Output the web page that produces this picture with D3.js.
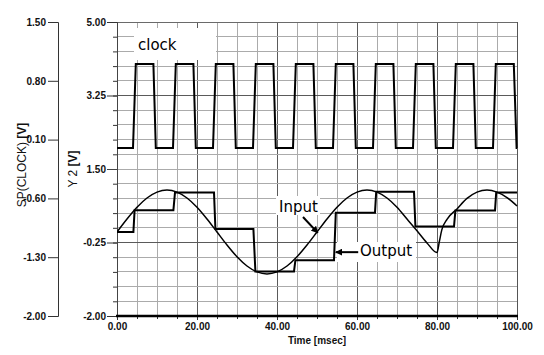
<!DOCTYPE html>
<html><head><meta charset="utf-8">
<script src="https://cdn.jsdelivr.net/npm/d3@7"></script>
<style>body{margin:0;background:#fff;} svg{display:block;}</style>
</head><body><svg id="c" width="544" height="355"></svg>
<script>
// ---- data ----
const timeTicks = [0, 20, 40, 60, 80, 100];
const timeTickLabels = ["0.00", "20.00", "40.00", "60.00", "80.00", "100.00"];
const leftTicks = [1.5, 0.8, 0.1, -0.6, -1.3, -2.0];
const leftTickLabels = ["1.50", "0.80", "0.10", "-0.60", "-1.30", "-2.00"];
const y2TopTicks = [5.0, 3.25, 1.5];
const y2TopTickLabels = ["5.00", "3.25", "1.50"];
const y2BotTicks = [-0.25, -2.0];
const y2BotTickLabels = ["-0.25", "-2.00"];

// clock (SP(CLOCK), left axis)
const clockT = [0, 4.0, 4.7, 9.1, 9.7, 14.0, 14.7, 19.1, 19.7, 24.0, 24.7, 29.1, 29.7,
  34.0, 34.7, 39.1, 39.7, 44.0, 44.7, 49.1, 49.7, 54.0, 54.7, 59.1, 59.7, 64.0, 64.7, 69.1, 69.7,
  74.0, 74.7, 79.1, 79.7, 84.0, 84.7, 89.1, 89.7, 94.0, 94.7, 99.2, 99.9, 100];
const clockV = [0, 0, 1, 1, 0, 0, 1, 1, 0, 0, 1, 1, 0,
  0, 1, 1, 0, 0, 1, 1, 0, 0, 1, 1, 0, 0, 1, 1, 0,
  0, 1, 1, 0, 0, 1, 1, 0, 0, 1, 1, 0, 0];

// Input (Y2, bottom)
const inputT = [0, 2.5, 5, 7.5, 10, 12.5, 15, 17.5, 20, 22.5, 25, 27.5, 30, 32.5, 35, 37.5, 40, 42.5, 45, 47.5,
  50, 52.5, 55, 57.5, 60, 62.5, 65, 67.5, 70, 72.5, 75, 77.5, 80, 80.6, 81.2, 82.5, 85, 87.5, 90, 92.5, 95, 97.5, 100];
const inputV = [0.00, 0.31, 0.59, 0.81, 0.95, 1.00, 0.95, 0.81, 0.59, 0.31, 0.00, -0.31, -0.59, -0.81, -0.95, -1.00, -0.95, -0.81, -0.59, -0.31,
  0.00, 0.31, 0.59, 0.81, 0.95, 1.00, 0.95, 0.81, 0.59, 0.31, 0.03, -0.26, -0.49, -0.22, 0.05, 0.30, 0.55, 0.80, 0.95, 1.00, 0.95, 0.82, 0.62];

// Output (Y2, bottom) sample & hold
const outputT = [0, 4.1, 4.4, 14.1, 14.5, 24.25, 24.6, 34.1, 34.6, 44.25, 44.6, 54.25, 54.7, 64.5, 64.8, 74.25, 74.6, 84.25, 84.6, 94.5, 94.8, 100];
const outputV = [0, 0, 0.52, 0.52, 0.94, 0.94, 0.07, 0.07, -0.94, -0.94, -0.67, -0.67, 0.46, 0.46, 0.96, 0.96, 0.13, 0.13, 0.51, 0.51, 0.94, 0.94];

// ---- layout ----
const W = 544, H = 355;
const L = 117, R = 517, T = 22, B = 316, MID = 169;
const svg = d3.select("#c");
const x = d3.scaleLinear().domain([0, 100]).range([L, R]);
const yL = d3.scaleLinear().domain([-2, 1.5]).range([B, T]);
const y2Top = d3.scaleLinear().domain([1.5, 5]).range([MID, T]);
const y2Bot = d3.scaleLinear().domain([-2, 1.5]).range([B, MID]);
const font = "'Liberation Sans', Arial, sans-serif";

// grid
const g = svg.append("g");
d3.range(0, 100.01, 5).forEach(t => {
  const major = t % 20 === 0;
  g.append("line").attr("x1", x(t)).attr("x2", x(t)).attr("y1", T).attr("y2", B)
    .attr("stroke", major ? "#5a5a5a" : "#ababab").attr("stroke-width", 1).attr("shape-rendering", "crispEdges");
});
d3.range(0, 21).forEach(i => {
  const v = -2 + i * 0.175;
  const yy = yL(v);
  const major = (i === 10 + 5 || i === 5);
  g.append("line").attr("x1", L).attr("x2", R).attr("y1", yy).attr("y2", yy)
    .attr("stroke", major ? "#5a5a5a" : "#ababab").attr("stroke-width", 1).attr("shape-rendering", "crispEdges");
});
// borders
g.append("line").attr("x1", L).attr("x2", R).attr("y1", T).attr("y2", T).attr("stroke", "#6a6a6a").attr("shape-rendering", "crispEdges");
g.append("line").attr("x1", R).attr("x2", R).attr("y1", T).attr("y2", B).attr("stroke", "#555").attr("shape-rendering", "crispEdges");
g.append("line").attr("x1", L).attr("x2", L).attr("y1", T).attr("y2", B).attr("stroke", "#444").attr("shape-rendering", "crispEdges");

// left axis (SP(CLOCK))
const axL = svg.append("g").attr("transform", "translate(58,0)");
axL.call(d3.axisLeft(yL).tickValues(d3.range(0, 21).map(i => -2 + i * 0.175)).tickSize(5).tickFormat(""));
axL.call(d3.axisLeft(yL).tickValues(leftTicks).tickSize(10).tickFormat((d, i) => leftTickLabels[i]).tickPadding(2));
axL.selectAll("path.domain").attr("stroke", "#333");
axL.selectAll(".tick line").attr("stroke", "#333");
axL.selectAll("text").attr("font-family", font).attr("font-weight", "bold").attr("font-size", 10).attr("fill", "#111");

// Y2 axis
const ax2 = svg.append("g").attr("transform", `translate(${L},0)`);
ax2.append("g").call(d3.axisLeft(yL).tickValues(d3.range(0, 21).map(i => -2 + i * 0.175)).tickSize(4).tickFormat(""));
ax2.append("g").call(d3.axisLeft(y2Top).tickValues(y2TopTicks).tickSize(10).tickFormat((d, i) => y2TopTickLabels[i]).tickPadding(1));
ax2.append("g").call(d3.axisLeft(y2Bot).tickValues(y2BotTicks).tickSize(10).tickFormat((d, i) => y2BotTickLabels[i]).tickPadding(1));
ax2.selectAll("path.domain").attr("stroke", "#444");
ax2.selectAll(".tick line").attr("stroke", "#333");
ax2.selectAll("text").attr("font-family", font).attr("font-weight", "bold").attr("font-size", 10).attr("fill", "#111");

// x axis
const axX = svg.append("g").attr("transform", `translate(0,${B})`);
axX.append("g").call(d3.axisBottom(x).tickValues(d3.range(0, 100.01, 5)).tickSize(3).tickFormat(""));
axX.append("g").call(d3.axisBottom(x).tickValues(timeTicks).tickSize(4).tickPadding(3).tickFormat((d, i) => timeTickLabels[i]));
axX.selectAll("path.domain").attr("stroke", "none");
axX.selectAll(".tick line").attr("stroke", "#333");
axX.selectAll("text").attr("font-family", font).attr("font-weight", "bold").attr("font-size", 10).attr("fill", "#111");
svg.append("line").attr("x1", L - 1).attr("x2", R + 1).attr("y1", B).attr("y2", B).attr("stroke", "#000").attr("stroke-width", 2.5);

// axis titles
svg.append("text").attr("x", (L + R) / 2).attr("y", 344).attr("text-anchor", "middle")
  .attr("font-family", font).attr("font-weight", "bold").attr("font-size", 10).attr("fill", "#111").text("Time [msec]");
const t1 = svg.append("text").attr("transform", "translate(26,165) rotate(-90)").attr("text-anchor", "middle")
  .attr("font-family", font).attr("font-size", 12).attr("fill", "#111");
t1.append("tspan").text("SP(CLOCK) ");
t1.append("tspan").attr("font-weight", "bold").text("[V]");
const t2 = svg.append("text").attr("transform", "translate(77,169) rotate(-90)").attr("text-anchor", "middle")
  .attr("font-family", font).attr("font-size", 12).attr("fill", "#111");
t2.append("tspan").text("Y 2 ");
t2.append("tspan").attr("font-weight", "bold").text("[V]");

// series
const clip = svg.append("clipPath").attr("id", "cp").append("rect").attr("x", L).attr("y", T - 2).attr("width", R - L + 1).attr("height", B - T + 2);
const plot = svg.append("g").attr("clip-path", "url(#cp)");

// annotation backgrounds
plot.append("rect").attr("x", 134).attr("y", 28).attr("width", 82).attr("height", 32).attr("fill", "#fff");
plot.append("rect").attr("x", 276).attr("y", 196).attr("width", 44).attr("height", 19).attr("fill", "#fff");
plot.append("rect").attr("x", 337).attr("y", 242).attr("width", 79).attr("height", 20).attr("fill", "#fff");

const clockLine = d3.line().x(d => x(d[0])).y(d => yL(d[1]));
plot.append("path").attr("d", clockLine(clockT.map((t, i) => [t, clockV[i]])))
  .attr("fill", "none").attr("stroke", "#000").attr("stroke-width", 2);

const inLine = d3.line().x(d => x(d[0])).y(d => y2Bot(d[1])).curve(d3.curveMonotoneX);
plot.append("path").attr("d", inLine(inputT.map((t, i) => [t, inputV[i]])))
  .attr("fill", "none").attr("stroke", "#000").attr("stroke-width", 1.5);

const outLine = d3.line().x(d => x(d[0])).y(d => y2Bot(d[1]));
plot.append("path").attr("d", outLine(outputT.map((t, i) => [t, outputV[i]])))
  .attr("fill", "none").attr("stroke", "#000").attr("stroke-width", 2);

// annotations
const afont = "'DejaVu Sans', Verdana, sans-serif";
svg.append("text").attr("x", x(5.25)).attr("y", yL(1.167)).attr("font-family", afont).attr("font-size", 15).attr("fill", "#000").text("clock");
svg.append("text").attr("x", x(40.5)).attr("y", y2Bot(0.476)).attr("font-family", afont).attr("font-size", 15).attr("fill", "#000").text("Input");
svg.append("text").attr("x", x(60.75)).attr("y", y2Bot(-0.58)).attr("font-family", afont).attr("font-size", 15).attr("fill", "#000").text("Output");

const defs = svg.append("defs");
defs.append("marker").attr("id", "ah").attr("viewBox", "0 0 10 10").attr("refX", 9).attr("refY", 5)
  .attr("markerWidth", 7).attr("markerHeight", 7).attr("markerUnits", "userSpaceOnUse").attr("orient", "auto")
  .append("path").attr("d", "M0,0 L10,5 L0,10 z").attr("fill", "#000");
svg.append("line").attr("x1", x(46.5)).attr("y1", y2Bot(0.357)).attr("x2", x(50.2)).attr("y2", y2Bot(-0.02))
  .attr("stroke", "#000").attr("stroke-width", 2).attr("marker-end", "url(#ah)");
svg.append("line").attr("x1", x(60.3)).attr("y1", y2Bot(-0.48)).attr("x2", x(54.7)).attr("y2", y2Bot(-0.48))
  .attr("stroke", "#000").attr("stroke-width", 2).attr("marker-end", "url(#ah)");
</script>
</body></html>
